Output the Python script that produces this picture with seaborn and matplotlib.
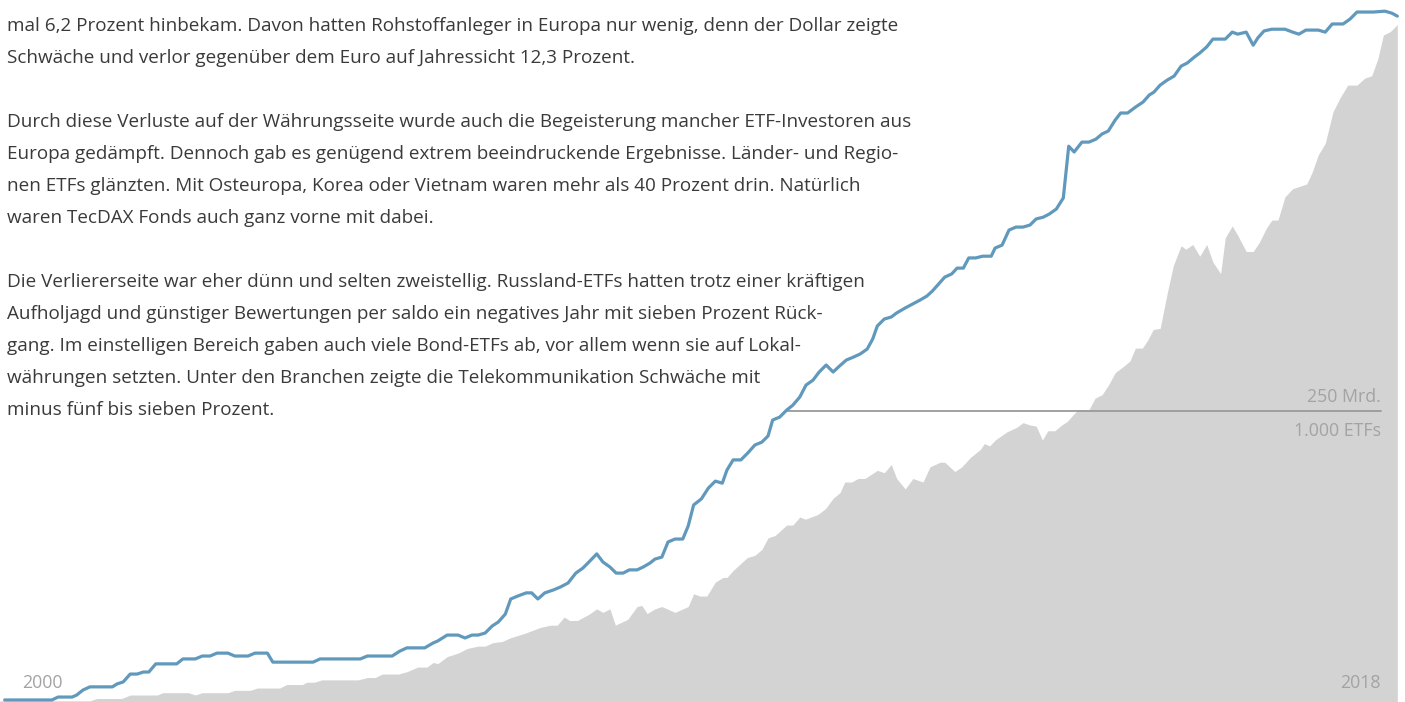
import matplotlib
matplotlib.use("Agg")
import matplotlib.pyplot as plt
import seaborn as sns
import pandas as pd

# ETF count (line), decimal year -> number of ETFs
etf_years = [2000.06, 2000.67, 2000.75, 2000.93, 2000.99, 2001.07, 2001.16, 2001.45, 2001.51, 2001.59,
             2001.68, 2001.77, 2001.85, 2001.92, 2002.01, 2002.28, 2002.36, 2002.52, 2002.61, 2002.71,
             2002.80, 2002.94, 2003.03, 2003.20, 2003.29, 2003.45, 2003.52, 2004.04, 2004.13, 2004.65,
             2004.74, 2005.06, 2005.16, 2005.25, 2005.48, 2005.59, 2005.65, 2005.77, 2005.91, 2006.00,
             2006.09, 2006.17, 2006.26, 2006.35, 2006.43, 2006.52, 2006.59, 2006.68, 2006.79, 2006.86,
             2006.94, 2007.03, 2007.14, 2007.23, 2007.33, 2007.43, 2007.52, 2007.61, 2007.70, 2007.78,
             2007.87, 2007.95, 2008.04, 2008.12, 2008.22, 2008.30, 2008.39, 2008.45, 2008.54, 2008.62,
             2008.71, 2008.81, 2008.88, 2008.95, 2009.05, 2009.14, 2009.23, 2009.32, 2009.38, 2009.46,
             2009.56, 2009.65, 2009.74, 2009.83, 2009.91, 2009.97, 2010.06, 2010.15, 2010.23, 2010.32,
             2010.40, 2010.49, 2010.57, 2010.66, 2010.75, 2010.83, 2010.92, 2011.01, 2011.10, 2011.19,
             2011.26, 2011.32, 2011.41, 2011.50, 2011.57, 2011.68, 2011.78, 2011.87, 2011.96, 2012.03,
             2012.10, 2012.19, 2012.28, 2012.35, 2012.43, 2012.50, 2012.59, 2012.68, 2012.79, 2012.84,
             2012.93, 2013.02, 2013.11, 2013.20, 2013.29, 2013.37, 2013.46, 2013.54, 2013.63, 2013.72,
             2013.79, 2013.86, 2013.96, 2014.05, 2014.14, 2014.22, 2014.30, 2014.39, 2014.46, 2014.55,
             2014.65, 2014.75, 2014.83, 2014.89, 2014.97, 2015.06, 2015.15, 2015.24, 2015.32, 2015.41,
             2015.48, 2015.57, 2015.65, 2015.81, 2015.90, 2015.97, 2016.08, 2016.17, 2016.23, 2016.31,
             2016.41, 2016.58, 2016.68, 2016.76, 2016.85, 2017.01, 2017.10, 2017.19, 2017.33, 2017.42,
             2017.51, 2017.72, 2017.87, 2017.96, 2018.03]
etf_counts = [7, 7, 17, 17, 24, 41, 52, 52, 62, 69,
              96, 96, 103, 103, 131, 131, 148, 148, 158, 158,
              168, 168, 158, 158, 168, 168, 137, 137, 148, 148,
              158, 158, 175, 186, 186, 203, 210, 230, 230, 220,
              230, 230, 237, 261, 275, 302, 354, 364, 375, 375,
              354, 375, 385, 395, 409, 443, 460, 484, 509, 481,
              464, 443, 443, 454, 454, 464, 478, 491, 498, 550,
              560, 560, 605, 677, 698, 735, 759, 752, 797, 832,
              832, 856, 883, 893, 914, 969, 979, 1003, 1020, 1048,
              1089, 1106, 1134, 1158, 1134, 1154, 1175, 1185, 1196, 1213,
              1247, 1292, 1316, 1323, 1337, 1354, 1368, 1381, 1395, 1412,
              1433, 1460, 1471, 1491, 1491, 1526, 1526, 1532, 1532, 1560,
              1570, 1622, 1632, 1632, 1639, 1660, 1666, 1677, 1694, 1732,
              1910, 1890, 1924, 1924, 1934, 1952, 1962, 2000, 2024, 2024,
              2044, 2062, 2086, 2096, 2120, 2137, 2151, 2185, 2196, 2216,
              2230, 2251, 2278, 2278, 2302, 2295, 2302, 2257, 2282, 2306,
              2312, 2312, 2302, 2295, 2309, 2309, 2302, 2330, 2330, 2347,
              2371, 2371, 2374, 2367, 2357]

# assets under management (grey area), decimal year -> Mrd. EUR
aum_years = [2000.00, 2000.65, 2001.16, 2001.25, 2001.57, 2001.68, 2002.03, 2002.10, 2002.43, 2002.52,
             2002.61, 2002.94, 2003.03, 2003.23, 2003.32, 2003.61, 2003.70, 2003.90, 2003.96, 2004.06,
             2004.15, 2004.62, 2004.74, 2004.84, 2004.93, 2005.14, 2005.25, 2005.39, 2005.51, 2005.59,
             2005.65, 2005.77, 2005.91, 2006.03, 2006.17, 2006.26, 2006.36, 2006.48, 2006.58, 2006.77,
             2006.97, 2007.10, 2007.19, 2007.28, 2007.35, 2007.45, 2007.59, 2007.70, 2007.78, 2007.87,
             2007.94, 2008.10, 2008.22, 2008.28, 2008.35, 2008.45, 2008.54, 2008.71, 2008.88, 2008.95,
             2009.03, 2009.12, 2009.23, 2009.33, 2009.38, 2009.46, 2009.64, 2009.74, 2009.83, 2009.91,
             2010.00, 2010.15, 2010.23, 2010.32, 2010.39, 2010.55, 2010.65, 2010.75, 2010.84, 2010.90,
             2010.99, 2011.07, 2011.16, 2011.32, 2011.41, 2011.50, 2011.57, 2011.68, 2011.78, 2011.91,
             2012.00, 2012.13, 2012.19, 2012.32, 2012.41, 2012.52, 2012.65, 2012.70, 2012.77, 2012.84,
             2012.99, 2013.12, 2013.20, 2013.29, 2013.37, 2013.45, 2013.52, 2013.61, 2013.70, 2013.77,
             2013.85, 2013.91, 2014.05, 2014.13, 2014.22, 2014.30, 2014.39, 2014.49, 2014.58, 2014.65,
             2014.74, 2014.81, 2014.88, 2014.97, 2015.06, 2015.14, 2015.24, 2015.30, 2015.39, 2015.48,
             2015.57, 2015.65, 2015.75, 2015.81, 2015.90, 2015.97, 2016.08, 2016.17, 2016.25, 2016.34,
             2016.41, 2016.49, 2016.58, 2016.68, 2016.86, 2016.93, 2017.01, 2017.10, 2017.20, 2017.29,
             2017.39, 2017.51, 2017.61, 2017.70, 2017.78, 2017.85, 2017.94, 2018.03]
aum_values = [1, 1, 1, 3, 3, 6, 6, 8, 8, 6,
              8, 8, 10, 10, 12, 12, 15, 15, 17, 17,
              19, 19, 21, 21, 24, 24, 26, 30, 30, 34,
              33, 39, 42, 46, 48, 48, 51, 52, 55, 59,
              64, 66, 66, 73, 70, 70, 75, 80, 77, 80,
              66, 71, 82, 83, 76, 80, 82, 77, 82, 93,
              91, 91, 103, 107, 107, 113, 124, 126, 131, 141,
              143, 152, 152, 159, 157, 161, 166, 175, 180, 189,
              189, 192, 192, 199, 197, 204, 192, 183, 192, 189,
              202, 206, 206, 198, 202, 210, 217, 222, 220, 225,
              232, 236, 240, 238, 237, 225, 233, 233, 238, 241,
              247, 251, 251, 261, 264, 272, 283, 288, 293, 304,
              304, 311, 320, 321, 351, 375, 392, 389, 393, 383,
              393, 378, 368, 399, 409, 401, 387, 387, 395, 407,
              414, 414, 434, 441, 445, 455, 470, 480, 507, 519,
              530, 530, 536, 538, 553, 573, 576, 582]

paragraphs = [
    ["mal 6,2 Prozent hinbekam. Davon hatten Rohstoffanleger in Europa nur wenig, denn der Dollar zeigte",
     "Schwäche und verlor gegenüber dem Euro auf Jahressicht 12,3 Prozent."],
    ["Durch diese Verluste auf der Währungsseite wurde auch die Begeisterung mancher ETF-Investoren aus",
     "Europa gedämpft. Dennoch gab es genügend extrem beeindruckende Ergebnisse. Länder- und Regio-",
     "nen ETFs glänzten. Mit Osteuropa, Korea oder Vietnam waren mehr als 40 Prozent drin. Natürlich",
     "waren TecDAX Fonds auch ganz vorne mit dabei."],
    ["Die Verliererseite war eher dünn und selten zweistellig. Russland-ETFs hatten trotz einer kräftigen",
     "Aufholjagd und günstiger Bewertungen per saldo ein negatives Jahr mit sieben Prozent Rück-",
     "gang. Im einstelligen Bereich gaben auch viele Bond-ETFs ab, vor allem wenn sie auf Lokal-",
     "währungen setzten. Unter den Branchen zeigte die Telekommunikation Schwäche mit",
     "minus fünf bis sieben Prozent."],
]

ref_etfs = 1000
ref_aum = 250
ref_start = 2010.15
year_start, year_end = 2000, 2018

sns.set_theme(style="white")
plt.rcParams["font.family"] = ["Open Sans", "DejaVu Sans"]

W, H = 1405, 702
fig = plt.figure(figsize=(W / 100, H / 100), dpi=100)
ax = fig.add_axes([0, 0, 1, 1])
x_max = 2000 + 1405 / 77.5
etf_top = 702 * 1000 / 291
label_grey = "#a3a3a3"

# grey area: volume
aum_df = pd.DataFrame({"year": aum_years, "aum": aum_values})
ax.fill_between(aum_df["year"], 0, aum_df["aum"], color="#d3d3d3", linewidth=0, zorder=1)
ax.set_xlim(2000, x_max)
ax.set_ylim(0, etf_top * ref_aum / ref_etfs)

# reference line 250 Mrd. / 1.000 ETFs
ref_end = 2000 + 1381 / 77.5
ax.plot([ref_start, ref_end], [ref_aum, ref_aum], color="#9a9a9a", lw=1.3, zorder=2)
ax.text(ref_end, ref_aum + 12, f"{ref_aum} Mrd.", ha="right", va="center",
        color=label_grey, fontsize=12.8, zorder=3)
ax.text(ref_end, ref_aum - 17, "1.000 ETFs", ha="right", va="center",
        color=label_grey, fontsize=12.8, zorder=3)

# blue line: number of ETFs
ax2 = ax.twinx()
etf_df = pd.DataFrame({"year": etf_years, "etfs": etf_counts})
sns.lineplot(data=etf_df, x="year", y="etfs", ax=ax2, color="#6199bc", lw=2.3)
ax2.set_xlim(2000, x_max)
ax2.set_ylim(0, etf_top)

for a in (ax, ax2):
    a.set_axis_off()

fig.text(22 / W, 1 - 683 / H, str(year_start), ha="left", va="center", color=label_grey, fontsize=12.8)
fig.text(1381 / W, 1 - 683 / H, str(year_end), ha="right", va="center", color=label_grey, fontsize=12.8)

# paragraphs of body text
k = 0
for para in paragraphs:
    for line in para:
        fig.text(7 / W, 1 - (26 + 32 * k) / H, line, ha="left", va="center",
                 color="#3a3a3a", fontsize=13.6)
        k += 1
    k += 1

fig.savefig("out.png", dpi=100)
